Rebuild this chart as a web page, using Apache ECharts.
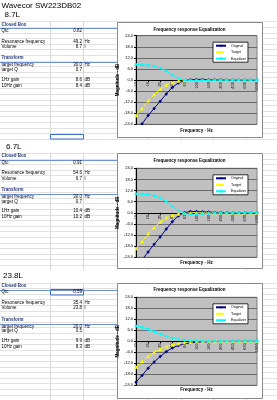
<!DOCTYPE html>
<html><head><meta charset="utf-8">
<script src="https://cdn.jsdelivr.net/npm/echarts@6/dist/echarts.min.js"></script>
<style>html,body{margin:0;padding:0;background:#fff}#c{width:277px;height:400px}</style>
</head><body><div id="c"></div>
<script>
// ---- data ----
const freqs = ['10','12.5','16','20','25','31.5','40','50','63','80','100','125','160','200','250','315','400','500','630','800','1000'];
const original1 = [-27.6,-23.7,-19.3,-15.4,-11.5,-7.6,-4.0,-1.6,-0.3,0.2,0.3,0.3,0.2,0.1,0.1,0.05,0.03,0.02,0.01,0,0];
const target1 = [-19.2,-15.4,-11.3,-7.9,-5.0,-2.7,-1.3,-0.6,-0.3,-0.1,0,0,0,0,0,0,0,0,0,0,0];
const equalizer1 = [8.4,8.3,8.0,7.5,6.5,4.9,2.7,1.0,0.0,-0.3,-0.3,-0.3,-0.2,-0.1,-0.1,-0.05,-0.03,-0.02,-0.01,0,0];
const original2 = [-29.4,-25.4,-21.1,-17.0,-13.0,-8.8,-4.8,-1.7,0.1,0.7,0.7,0.5,0.4,0.2,0.2,0.1,0.06,0.04,0.03,0.02,0.01];
const target2 = [-19.2,-15.4,-11.3,-7.9,-5.0,-2.7,-1.3,-0.6,-0.3,-0.1,0,0,0,0,0,0,0,0,0,0,0];
const equalizer2 = [10.2,10.1,9.8,9.2,8.0,6.1,3.5,1.1,-0.4,-0.8,-0.7,-0.5,-0.4,-0.2,-0.2,-0.1,-0.06,-0.04,-0.03,-0.02,-0.01];
const original3 = [-22.3,-18.6,-14.7,-11.3,-8.3,-5.7,-3.6,-2.3,-1.4,-0.8,-0.5,-0.3,-0.2,-0.1,-0.08,-0.05,-0.03,-0.02,-0.01,-0.01,0];
const target3 = [-14.0,-11.0,-8.2,-6.0,-4.3,-2.9,-1.9,-1.3,-0.8,-0.5,-0.3,-0.2,-0.1,-0.09,-0.06,-0.04,-0.02,-0.01,-0.01,0,0];
const equalizer3 = [8.3,7.6,6.5,5.3,4.0,2.7,1.7,1.0,0.6,0.3,0.2,0.1,0.06,0.03,0.02,0.02,0.01,0.01,0,0,0];
const yTicks = [-24,-18,-12,-6,0,6,12,18,24];

const pageTitle = 'Wavecor SW223DB02';
const volumeLabels = ['8.7L','6.7L','23.8L'];
const qtcValues = ['0.82','0.91','0.59'];
const resFreqValues = ['49.2','54.6','35.4'];
const volumeValues = ['8.7','6.7','23.8'];
const targetFreqValues = ['30.0','30.0','20.0'];
const targetQValues = ['0.7','0.7','0.5'];
const gain1Values = ['8.6','10.4','9.9'];
const gain10Values = ['8.4','10.2','8.3'];

const originals = [original1, original2, original3];
const targets = [target1, target2, target3];
const equalizers = [equalizer1, equalizer2, equalizer3];

// ---- layout ----
const F = 'Liberation Sans, Arial, sans-serif';
const frames = [ {top:22, h:115, plotTop:35.7, plotH:88.6, titleY:30, xTitleY:131},
                 {top:152.5, h:114.5, plotTop:168.3, plotH:89, titleY:161, xTitleY:263},
                 {top:282.5, h:114.5, plotTop:297.3, plotH:88, titleY:290.5, xTitleY:390} ];
const secCB = [24.3, 156, 285.5];
const bigY = [15, 146.5, 276];
const bigX = [4.5, 6, 3];
const lineRanges = [[21.3,140],[153,270.5],[282.5,400]];

const G = [];
function txt(x,y,text,opt){ return {type:'text', x:x, y:y, z:20, silent:true, style:Object.assign({text:text, fontSize:4.5, fontFamily:F, fill:'#000', textAlign:'left', verticalAlign:'middle', textVerticalAlign:'middle'}, opt||{})}; }
function ln(x1,y1,x2,y2,c,w,z){ return {type:'line', z:z, silent:true, shape:{x1:x1,y1:y1,x2:x2,y2:y2}, style:{stroke:c, lineWidth:w}}; }

G.push({type:'rect', z:-100, shape:{x:0,y:0,width:277,height:400}, style:{fill:'#fff'}});
// spreadsheet grid
lineRanges.forEach(r=>{
  for(let y=r[0]; y<=r[1]; y+=5.6){ const yy=Math.round(y)+0.5; G.push(ln(0,yy,277,yy,'#e2e2e2',1,-90)); }
  [50,83,117,147,181,213,246].forEach(x=>G.push(ln(x+0.5,r[0],x+0.5,r[1],'#d8d8d8',1,-90)));
});
// selected cells
G.push({type:'rect', z:-80, shape:{x:50.5,y:134.5,width:33,height:4.5}, style:{fill:'none', stroke:'#3c6bc4', lineWidth:1}});
G.push({type:'rect', z:-80, shape:{x:50.5,y:289.5,width:33,height:5.5}, style:{fill:'none', stroke:'#3c6bc4', lineWidth:1}});

G.push(txt(1.5,5.7,pageTitle,{fontSize:8}));
for(let s=0;s<3;s++){
  const b = secCB[s];
  G.push({type:'rect', z:-85, shape:{x:0,y:bigY[s]-6,width:277,height:11}, style:{fill:'#fff'}});
  G.push(txt(bigX[s], bigY[s], volumeLabels[s], {fontSize:8}));
  G.push(ln(0,Math.round(b+4)+0.5,117,Math.round(b+4)+0.5,'#6d93d3',1,-70));
  G.push(ln(0,Math.round(b+38)+0.5,117,Math.round(b+38)+0.5,'#6d93d3',1,-70));
  const hd = {fontWeight:'bold', fill:'#1f3a7a'};
  G.push(txt(1.5,b,'Closed Box',hd));
  G.push(txt(1.5,b+6.5,'Qtc'));
  G.push(txt(82,b+6.5,qtcValues[s],{textAlign:'right'}));
  G.push(txt(1.5,b+17.1,'Resonance frequency'));
  G.push(txt(82,b+17.1,resFreqValues[s],{textAlign:'right'}));
  G.push(txt(84.5,b+17.1,'Hz'));
  G.push(txt(1.5,b+22.5,'Volume'));
  G.push(txt(82,b+22.5,volumeValues[s],{textAlign:'right'}));
  G.push(txt(84.5,b+22.5,'l'));
  G.push(txt(1.5,b+33.9,'Transform',hd));
  G.push(txt(1.5,b+40.8,'target frequency'));
  G.push(txt(82,b+40.8,targetFreqValues[s],{textAlign:'right'}));
  G.push(txt(84.5,b+40.8,'Hz'));
  G.push(txt(1.5,b+45.7,'target Q'));
  G.push(txt(82,b+45.7,targetQValues[s],{textAlign:'right'}));
  G.push(txt(1.5,b+55.2,'1Hz gain'));
  G.push(txt(82,b+55.2,gain1Values[s],{textAlign:'right'}));
  G.push(txt(84.5,b+55.2,'dB'));
  G.push(txt(1.5,b+61.1,'10Hz gain'));
  G.push(txt(82,b+61.1,gain10Values[s],{textAlign:'right'}));
  G.push(txt(84.5,b+61.1,'dB'));
}
// chart frames and x titles
frames.forEach(f=>{
  G.push({type:'rect', z:-50, shape:{x:117.5,y:Math.round(f.top)+0.5,width:145,height:Math.round(f.h)}, style:{fill:'#fff', stroke:'#8a8a8a', lineWidth:1}});
  G.push(txt(196.5, f.xTitleY, 'Frequency - Hz', {fontWeight:'bold', textAlign:'center'}));
});

const grids=[], xAxes=[], yAxes=[], series=[], titles=[], legends=[];
frames.forEach((f,i)=>{
  grids.push({left:136, top:f.plotTop, width:121, height:f.plotH, show:true, backgroundColor:'#c0c0c0', borderColor:'#808080', borderWidth:1, z:0});
  // x axis sits on the 0 dB line (middle of the symmetric -24..24 range)
  xAxes.push({type:'category', gridIndex:i, data:freqs, boundaryGap:false, position:'bottom', offset:-f.plotH/2,
    axisLine:{onZero:false, lineStyle:{color:'#000', width:1}},
    axisTick:{show:true, interval:1, length:2, lineStyle:{color:'#000'}},
    axisLabel:{interval:1, rotate:90, fontSize:4, color:'#000', margin:2, fontFamily:F},
    splitLine:{show:false}, z:3});
  yAxes.push({type:'value', gridIndex:i, min:yTicks[0], max:yTicks[yTicks.length-1], interval:6,
    axisLabel:{formatter:v=>v.toFixed(1), fontSize:4, color:'#000', margin:3, fontFamily:F},
    axisLine:{show:true, lineStyle:{color:'#000'}},
    axisTick:{show:true, length:2, lineStyle:{color:'#000'}},
    splitLine:{lineStyle:{color:'#555', width:0.8}},
    name:'Magnitude - dB', nameLocation:'middle', nameGap:11,
    nameTextStyle:{fontSize:4.5, fontWeight:'bold', color:'#000', fontFamily:F}});
  series.push({name:'Original', type:'line', xAxisIndex:i, yAxisIndex:i, data:originals[i], showAllSymbol:true,
    symbol:'diamond', symbolSize:3.5, lineStyle:{color:'#000080', width:1}, itemStyle:{color:'#000080'}, z:4});
  series.push({name:'Target', type:'line', xAxisIndex:i, yAxisIndex:i, data:targets[i], showAllSymbol:true,
    symbol:'triangle', symbolSize:3.5, lineStyle:{color:'#ffff00', width:1, type:'dashed'}, itemStyle:{color:'#ffff00'}, z:4});
  series.push({name:'Equalizer', type:'line', xAxisIndex:i, yAxisIndex:i, data:equalizers[i], showAllSymbol:true,
    symbol:'rect', symbolSize:2.5, lineStyle:{color:'#00ffff', width:1}, itemStyle:{color:'#00ffff'}, z:5});
  titles.push({text:'Frequency response Equalization', left:189.5, textAlign:'center', top:f.titleY-3, padding:0,
    textStyle:{fontSize:4.5, fontWeight:'bold', color:'#000', fontFamily:F}});
  legends.push({data:['Original','Target','Equalizer'], left:213, top:f.plotTop+6.5, orient:'vertical',
    itemWidth:10, itemHeight:3, itemGap:2.5, padding:[1.5,2,1.5,2], backgroundColor:'#fff', borderColor:'#000', borderWidth:0.8,
    textStyle:{fontSize:3.6, color:'#000', fontFamily:F}});
});

const chart = echarts.init(document.getElementById('c'), null, {renderer:'canvas'});
chart.setOption({animation:false, backgroundColor:'#fff', title:titles, legend:legends, grid:grids, xAxis:xAxes, yAxis:yAxes, series:series, graphic:{elements:G}});
</script></body></html>
